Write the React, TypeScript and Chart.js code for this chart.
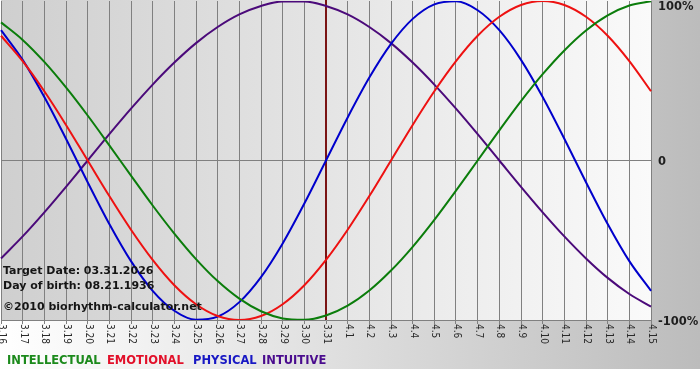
import React, { useEffect, useRef } from "react";
import { Chart, registerables } from "chart.js";

Chart.register(...registerables);

const dayLabels = [
  "3.16", "3.17", "3.18", "3.19", "3.20", "3.21", "3.22", "3.23", "3.24", "3.25",
  "3.26", "3.27", "3.28", "3.29", "3.30", "3.31", "4.1", "4.2", "4.3", "4.4",
  "4.5", "4.6", "4.7", "4.8", "4.9", "4.10", "4.11", "4.12", "4.13", "4.14", "4.15",
];

const intellectual = [
  0.866, 0.756, 0.618, 0.458, 0.282, 0.095, -0.095, -0.282, -0.458, -0.618,
  -0.756, -0.866, -0.945, -0.99, -0.999, -0.972, -0.91, -0.815, -0.69, -0.541,
  -0.372, -0.189, 0.0, 0.189, 0.372, 0.541, 0.69, 0.815, 0.91, 0.972, 0.999,
];
const emotional = [
  0.782, 0.623, 0.434, 0.223, 0.0, -0.223, -0.434, -0.623, -0.782, -0.901,
  -0.975, -1.0, -0.975, -0.901, -0.782, -0.623, -0.434, -0.223, 0.0, 0.223,
  0.434, 0.623, 0.782, 0.901, 0.975, 1.0, 0.975, 0.901, 0.782, 0.623, 0.434,
];
const physical = [
  0.817, 0.631, 0.398, 0.136, -0.136, -0.398, -0.631, -0.817, -0.942, -0.998,
  -0.979, -0.888, -0.731, -0.52, -0.27, 0.0, 0.27, 0.52, 0.731, 0.888,
  0.979, 0.998, 0.942, 0.817, 0.631, 0.398, 0.136, -0.136, -0.398, -0.631, -0.817,
];
const intuitive = [
  -0.614, -0.476, -0.325, -0.165, 0.0, 0.165, 0.325, 0.476, 0.614, 0.736,
  0.837, 0.916, 0.969, 0.997, 0.997, 0.969, 0.916, 0.837, 0.736, 0.614,
  0.476, 0.325, 0.165, 0.0, -0.165, -0.325, -0.476, -0.614, -0.736, -0.837, -0.916,
];

const seriesNames = ["INTELLECTUAL", "EMOTIONAL", "PHYSICAL", "INTUITIVE"];
const lineColors = ["#0b7d0b", "#ee1111", "#0000cc", "#4b0a7a"];
const legendColors = ["#1c8a1c", "#e2102a", "#1818c4", "#4a0c8e"];
const legendX = [7, 107, 193, 262];

const yTickValues = [-1, 0, 1];
const yTickLabels = ["-100%", "0", "100%"];
const targetIndex = 15;
const infoLines = [
  "Target Date: 03.31.2026",
  "Day of birth: 08.21.1936",
  "\u00a92010 biorhythm-calculator.net",
];
const infoY = [271, 286, 307];

const FONT = "'DejaVu Sans', Verdana, sans-serif";
const CFONT = "'DejaVu Sans Condensed', 'DejaVu Sans', sans-serif";

const decorPlugin = {
  id: "decor",
  beforeDraw(chart: any) {
    const { ctx, chartArea, width, height } = chart;
    ctx.save();
    ctx.fillStyle = "#ffffff";
    ctx.fillRect(0, 0, width, height);
    const g = ctx.createLinearGradient(0, 0, width, 0);
    g.addColorStop(0, "#ffffff");
    g.addColorStop(1, "#bcbcbc");
    ctx.fillStyle = g;
    ctx.fillRect(0, 0, width, 369);
    const pg = ctx.createLinearGradient(chartArea.left, 0, chartArea.right, 0);
    pg.addColorStop(0, "#cfcfcf");
    pg.addColorStop(1, "#fafafa");
    ctx.fillStyle = pg;
    ctx.fillRect(chartArea.left, chartArea.top - 1, chartArea.right - chartArea.left, chartArea.bottom - chartArea.top + 1);
    ctx.restore();
  },
  beforeDatasetsDraw(chart: any) {
    const { ctx, chartArea } = chart;
    const xs = chart.scales.x;
    const x = Math.round(xs.getPixelForValue(targetIndex));
    ctx.save();
    ctx.strokeStyle = "#7a1414";
    ctx.lineWidth = 2;
    ctx.beginPath();
    ctx.moveTo(x, chartArea.top - 1);
    ctx.lineTo(x, chartArea.bottom);
    ctx.stroke();
    ctx.restore();
  },
  afterDatasetsDraw(chart: any) {
    const { ctx } = chart;
    ctx.save();
    ctx.font = `bold 11px ${FONT}`;
    ctx.fillStyle = "#151515";
    ctx.textAlign = "left";
    ctx.textBaseline = "middle";
    infoLines.forEach((t, i) => ctx.fillText(t, 3, infoY[i]));
    ctx.restore();
  },
  afterDraw(chart: any) {
    const { ctx, chartArea } = chart;
    const xs = chart.scales.x;
    const ys = chart.scales.y;
    ctx.save();
    ctx.font = `10px ${CFONT}`;
    ctx.fillStyle = "#2a2a2a";
    ctx.textAlign = "left";
    ctx.textBaseline = "middle";
    dayLabels.forEach((lab, i) => {
      const px = xs.getPixelForValue(i);
      ctx.save();
      ctx.translate(px + 0.5, chartArea.bottom + 4);
      ctx.rotate(Math.PI / 2);
      ctx.fillText(lab, 0, 0);
      ctx.restore();
    });
    ctx.font = `bold 11.5px ${FONT}`;
    ctx.fillStyle = "#1e1e1e";
    yTickValues.forEach((v, i) => {
      const py = ys.getPixelForValue(v);
      ctx.fillText(yTickLabels[i], chartArea.right + 7, Math.max(py + 2, 7));
    });
    ctx.font = `bold 11.5px ${FONT}`;
    seriesNames.forEach((n, i) => {
      ctx.fillStyle = legendColors[i];
      ctx.fillText(n, legendX[i], 361);
    });
    ctx.restore();
  },
};

export default function App() {
  const ref = useRef<HTMLCanvasElement | null>(null);
  useEffect(() => {
    if (!ref.current) return;
    const series = [intellectual, emotional, physical, intuitive];
    const chart = new Chart(ref.current, {
      type: "line",
      data: {
        labels: dayLabels,
        datasets: series.map((d, i) => ({
          label: seriesNames[i],
          data: d,
          borderColor: lineColors[i],
          backgroundColor: lineColors[i],
          borderWidth: 2,
          pointRadius: 0,
          cubicInterpolationMode: "monotone" as const,
          fill: false,
        })),
      },
      options: {
        responsive: false,
        animation: false,
        devicePixelRatio: 1,
        layout: { padding: { left: 1, top: 1, right: 0, bottom: 11 } },
        plugins: { legend: { display: false }, tooltip: { enabled: false } },
        scales: {
          x: {
            type: "category",
            offset: false,
            ticks: { display: false },
            grid: {
              color: "#808080",
              lineWidth: 1,
              drawTicks: true,
              tickLength: 4,
            },
            border: { display: true, color: "#808080" },
            afterFit: (s: any) => {
              s.height = 49;
            },
          },
          y: {
            position: "right",
            min: -1,
            max: 1,
            afterBuildTicks: (s: any) => {
              s.ticks = yTickValues.map((v) => ({ value: v }));
            },
            ticks: { display: false },
            grid: {
              color: (c: any) => (c.tick && c.tick.value === 0 ? "#808080" : "rgba(0,0,0,0)"),
              drawTicks: false,
            },
            border: { display: false },
            afterFit: (s: any) => {
              s.width = 49;
            },
          },
        },
      },
      plugins: [decorPlugin],
    });
    return () => chart.destroy();
  }, []);
  return (
    <div style={{ position: "absolute", left: 0, top: 0, width: 700, height: 380 }}>
      <canvas ref={ref} width={700} height={380} style={{ display: "block", width: 700, height: 380 }} />
    </div>
  );
}
